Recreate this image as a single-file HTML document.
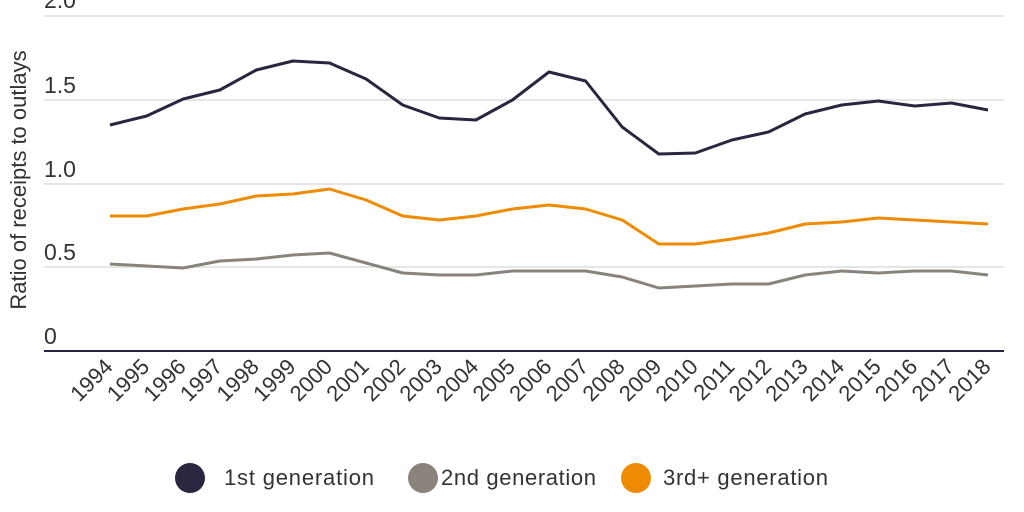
<!DOCTYPE html>
<html><head><meta charset="utf-8"><style>body{margin:0;background:#fff}svg{display:block}text{font-family:"Liberation Sans",sans-serif}</style></head>
<body>
<svg width="1024" height="512" viewBox="0 0 1024 512" xmlns="http://www.w3.org/2000/svg">
<g stroke="#e6e6e6" stroke-width="2">
<line x1="44" y1="16" x2="1004" y2="16"/><line x1="44" y1="100" x2="1004" y2="100"/>
<line x1="44" y1="184" x2="1004" y2="184"/><line x1="44" y1="267" x2="1004" y2="267"/>
</g>
<line x1="44" y1="351" x2="1004" y2="351" stroke="#2a2640" stroke-width="2"/>
<g font-size="23" fill="#333">
<text x="44" y="8">2.0</text><text x="44" y="93">1.5</text><text x="44" y="177">1.0</text><text x="44" y="260">0.5</text><text x="44" y="344">0</text>
</g>
<text transform="translate(26,180) rotate(-90)" text-anchor="middle" font-size="22" fill="#333">Ratio of receipts to outlays</text>
<polyline fill="none" stroke="#2a2640" stroke-width="3" stroke-linejoin="round" points="110,125 146.6,116 183.2,99 219.8,90 256.3,70 292.9,61 329.5,63 366.1,79 402.7,105 439.3,118 475.8,120 512.4,100 549,72 585.6,81 622.2,127 658.8,154 695.3,153 731.9,140 768.5,132 805.1,114 841.7,105 878.3,101 914.8,106 951.4,103 988,110"/>
<polyline fill="none" stroke="#ee8b00" stroke-width="3" stroke-linejoin="round" points="110,216 146.6,216 183.2,209 219.8,204 256.3,196 292.9,194 329.5,189 366.1,200 402.7,216 439.3,220 475.8,216 512.4,209 549,205 585.6,209 622.2,220 658.8,244 695.3,244 731.9,239 768.5,233 805.1,224 841.7,222 878.3,218 914.8,220 951.4,222 988,224"/>
<polyline fill="none" stroke="#8a837b" stroke-width="3" stroke-linejoin="round" points="110,264 146.6,266 183.2,268 219.8,261 256.3,259 292.9,255 329.5,253 366.1,263 402.7,273 439.3,275 475.8,275 512.4,271 549,271 585.6,271 622.2,277 658.8,288 695.3,286 731.9,284 768.5,284 805.1,275 841.7,271 878.3,273 914.8,271 951.4,271 988,275"/>
<g font-size="22" fill="#333">
<circle cx="190" cy="478" r="15" fill="#2a2640"/><text x="224" y="485" textLength="150">1st generation</text>
<circle cx="423" cy="478" r="15" fill="#8a837b"/><text x="441" y="485" textLength="155">2nd generation</text>
<circle cx="636" cy="478" r="15" fill="#ee8b00"/><text x="663" y="485" textLength="165">3rd+ generation</text>
</g>
<g font-size="22" fill="#333" text-anchor="end">
<text transform="translate(114,368) rotate(-45)">1994</text>
<text transform="translate(150.6,368) rotate(-45)">1995</text>
<text transform="translate(187.2,368) rotate(-45)">1996</text>
<text transform="translate(223.8,368) rotate(-45)">1997</text>
<text transform="translate(260.3,368) rotate(-45)">1998</text>
<text transform="translate(296.9,368) rotate(-45)">1999</text>
<text transform="translate(333.5,368) rotate(-45)">2000</text>
<text transform="translate(370.1,368) rotate(-45)">2001</text>
<text transform="translate(406.7,368) rotate(-45)">2002</text>
<text transform="translate(443.3,368) rotate(-45)">2003</text>
<text transform="translate(479.8,368) rotate(-45)">2004</text>
<text transform="translate(516.4,368) rotate(-45)">2005</text>
<text transform="translate(553,368) rotate(-45)">2006</text>
<text transform="translate(589.6,368) rotate(-45)">2007</text>
<text transform="translate(626.2,368) rotate(-45)">2008</text>
<text transform="translate(662.8,368) rotate(-45)">2009</text>
<text transform="translate(699.3,368) rotate(-45)">2010</text>
<text transform="translate(735.9,368) rotate(-45)">2011</text>
<text transform="translate(772.5,368) rotate(-45)">2012</text>
<text transform="translate(809.1,368) rotate(-45)">2013</text>
<text transform="translate(845.7,368) rotate(-45)">2014</text>
<text transform="translate(882.3,368) rotate(-45)">2015</text>
<text transform="translate(918.8,368) rotate(-45)">2016</text>
<text transform="translate(955.4,368) rotate(-45)">2017</text>
<text transform="translate(992,368) rotate(-45)">2018</text>
</g>
</svg>
</body></html>
